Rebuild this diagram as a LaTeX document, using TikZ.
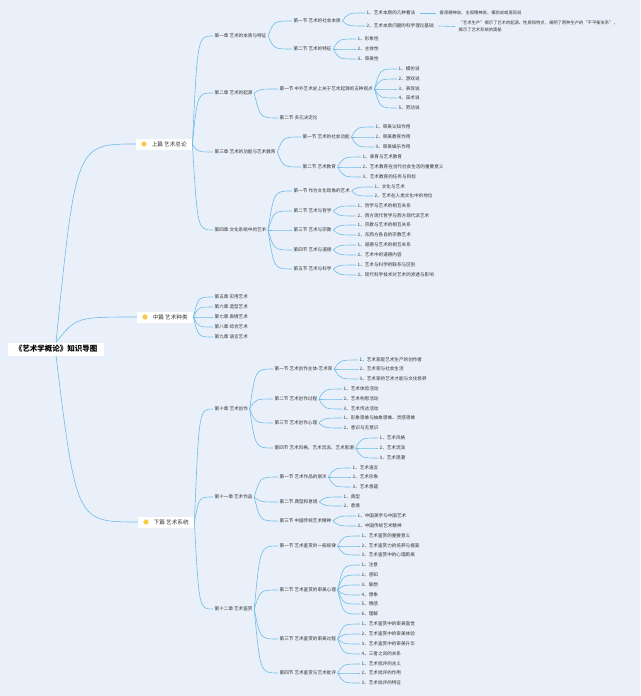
\documentclass[tikz,border=0pt]{standalone}
\usepackage{fontspec}
\newfontfamily\cjk{Noto Sans CJK SC}
\usepackage{tikz}
\usetikzlibrary{calc}
\definecolor{bgblue}{HTML}{E9F0F9}
\definecolor{lineblue}{HTML}{6DBDE8}
\definecolor{textgray}{HTML}{333333}
\definecolor{iconyel}{HTML}{F6CB45}
\tikzset{
    rootnode/.style = {fill=white, minimum width=96pt, minimum height=13pt, inner sep=0pt, font=\cjk\bfseries\fontsize{7.5}{9}\selectfont, text=black},
    partnode/.style = {fill=white, anchor=west, minimum width=56pt, minimum height=11pt, inner sep=0pt, font=\cjk\fontsize{5.6}{7}\selectfont, text=textgray},
    mynode/.style = {anchor=west, inner xsep=1.5pt, inner ysep=1pt, font=\cjk\fontsize{4.6}{6}\selectfont, text=textgray},
    notenode/.style = {mynode, align=left, font=\cjk\fontsize{4.3}{7}\selectfont},
    edgeb/.style = {-, line width=0.6pt, draw=lineblue, to path={.. controls ($(\tikztostart |- \tikztotarget)!0.25!(\tikztotarget)$) .. (\tikztotarget)}},
    edgel/.style = {-, line width=0.6pt, draw=lineblue}, % straight
}
\begin{document}
\begin{tikzpicture}[x=1pt,y=-1pt]
\fill[bgblue] (0,0) rectangle (640,696);
\path[use as bounding box] (0,0) rectangle (640,696);

% root and parts
\node[rootnode] at (56,349) (rt) {《艺术学概论》知识导图};
\node[partnode] at (136,144) (p1) {\hspace{10pt}上篇 艺术总论};
\node[partnode] at (137,317) (p2) {\hspace{10pt}中篇 艺术种类};
\node[partnode] at (138,522) (p3) {\hspace{10pt}下篇 艺术系统};
\fill[iconyel] ([xshift=8pt]p1.west) circle (2.6);
\fill[iconyel] ([xshift=8pt]p2.west) circle (2.6);
\fill[iconyel] ([xshift=8pt]p3.west) circle (2.6);

% chapters
\node[mynode] at (213,36) (c1) {第一章 艺术的本质与特征};
\node[mynode] at (213,93) (c2) {第二章 艺术的起源};
\node[mynode] at (213,152) (c3) {第三章 艺术的功能与艺术教育};
\node[mynode] at (213,230) (c4) {第四章 文化系统中的艺术};
\node[mynode] at (213,297) (c5) {第五章 实用艺术};
\node[mynode] at (213,307) (c6) {第六章 造型艺术};
\node[mynode] at (213,317) (c7) {第七章 表情艺术};
\node[mynode] at (213,327) (c8) {第八章 综合艺术};
\node[mynode] at (213,337) (c9) {第九章 语言艺术};
\node[mynode] at (213,409) (c10) {第十章 艺术创作};
\node[mynode] at (213,497) (c11) {第十一章 艺术作品};
\node[mynode] at (213,609) (c12) {第十二章 艺术鉴赏};

% sections
\node[mynode] at (292,21) (s11) {第一节 艺术的社会本质};
\node[mynode] at (292,49) (s12) {第二节 艺术的特征};
\node[mynode] at (278,89) (s21) {第一节 中外艺术史上关于艺术起源的五种观点};
\node[mynode] at (278,118) (s22) {第二节 多元决定论};
\node[mynode] at (301,137) (s31) {第一节 艺术的社会功能};
\node[mynode] at (301,167) (s32) {第二节 艺术教育};
\node[mynode] at (292,191) (s41) {第一节 作为文化现象的艺术};
\node[mynode] at (292,211) (s42) {第二节 艺术与哲学};
\node[mynode] at (292,230) (s43) {第三节 艺术与宗教};
\node[mynode] at (292,250) (s44) {第四节 艺术与道德};
\node[mynode] at (292,269) (s45) {第五节 艺术与科学};
\node[mynode] at (273,369) (s101) {第一节 艺术创作主体-艺术家};
\node[mynode] at (273,399) (s102) {第二节 艺术创作过程};
\node[mynode] at (273,423) (s103) {第三节 艺术创作心理};
\node[mynode] at (273,448) (s104) {第四节 艺术风格、艺术流派、艺术思潮};
\node[mynode] at (278,477) (s111) {第一节 艺术作品的层次};
\node[mynode] at (278,502) (s112) {第二节 典型和意境};
\node[mynode] at (278,521) (s113) {第三节 中国传统艺术精神};
\node[mynode] at (278,546) (s121) {第一节 艺术鉴赏的一般规律};
\node[mynode] at (278,590) (s122) {第二节 艺术鉴赏的审美心理};
\node[mynode] at (278,639) (s123) {第三节 艺术鉴赏的审美过程};
\node[mynode] at (278,673) (s124) {第四节 艺术鉴赏与艺术批评};

% items, part one
\node[mynode] at (365,13) (i111) {1、艺术本质的几种看法};
\node[mynode] at (365,26) (i112) {2、艺术本质问题的科学理论基础};
\node[notenode] at (438,13) (n1) {客观精神说、主观精神说、模仿说或再现说};
\node[notenode] at (457,26.5) (n2) {“艺术生产”揭示了艺术的起源、性质和特点，阐明了两种生产的“不平衡关系”，\\揭示了艺术系统的奥秘};
\node[mynode] at (356,39) (i121) {1、形象性};
\node[mynode] at (356,49) (i122) {2、主体性};
\node[mynode] at (356,59) (i123) {3、审美性};
\node[mynode] at (397,69) (i211) {1、模仿说};
\node[mynode] at (397,79) (i212) {2、游戏说};
\node[mynode] at (397,89) (i213) {3、表现说};
\node[mynode] at (397,98) (i214) {4、巫术说};
\node[mynode] at (397,108) (i215) {5、劳动说};
\node[mynode] at (374,127) (i311) {1、审美认知作用};
\node[mynode] at (374,137) (i312) {2、审美教育作用};
\node[mynode] at (374,147) (i313) {3、审美娱乐作用};
\node[mynode] at (361,157) (i321) {1、美育与艺术教育};
\node[mynode] at (361,167) (i322) {2、艺术教育在当代社会生活的重要意义};
\node[mynode] at (361,177) (i323) {3、艺术教育的任务与目标};
\node[mynode] at (373,187) (i411) {1、文化与艺术};
\node[mynode] at (373,196) (i412) {2、艺术在人类文化中的地位};
\node[mynode] at (356,206) (i421) {1、哲学与艺术的相互关系};
\node[mynode] at (356,216) (i422) {2、西方现代哲学与西方现代派艺术};
\node[mynode] at (356,225) (i431) {1、宗教与艺术的相互关系};
\node[mynode] at (356,235) (i432) {2、东西方各自的宗教艺术};
\node[mynode] at (356,245) (i441) {1、道德与艺术的相互关系};
\node[mynode] at (356,255) (i442) {2、艺术中的道德内容};
\node[mynode] at (356,265) (i451) {1、艺术与科学的联系与区别};
\node[mynode] at (356,275) (i452) {2、现代科学技术对艺术的渗透与影响};

% items, part three
\node[mynode] at (358,360) (i1011) {1、艺术家是艺术生产的创作者};
\node[mynode] at (358,369) (i1012) {2、艺术家与社会生活};
\node[mynode] at (358,379) (i1013) {3、艺术家的艺术才能与文化修养};
\node[mynode] at (342,389) (i1021) {1、艺术体验活动};
\node[mynode] at (342,399) (i1022) {2、艺术构思活动};
\node[mynode] at (342,409) (i1023) {3、艺术传达活动};
\node[mynode] at (342,418) (i1031) {1、形象思维与抽象思维、灵感思维};
\node[mynode] at (342,428) (i1032) {2、意识与无意识};
\node[mynode] at (378,438) (i1041) {1、艺术风格};
\node[mynode] at (378,448) (i1042) {2、艺术流派};
\node[mynode] at (378,458) (i1043) {3、艺术思潮};
\node[mynode] at (351,468) (i1111) {1、艺术语言};
\node[mynode] at (351,477) (i1112) {2、艺术形象};
\node[mynode] at (351,487) (i1113) {3、艺术意蕴};
\node[mynode] at (342,497) (i1121) {1、典型};
\node[mynode] at (342,506) (i1122) {2、意境};
\node[mynode] at (356,516) (i1131) {1、中国美学与中国艺术};
\node[mynode] at (356,526) (i1132) {2、中国传统艺术精神};
\node[mynode] at (360,536) (i1211) {1、艺术鉴赏的重要意义};
\node[mynode] at (360,546) (i1212) {2、艺术鉴赏力的培养与提高};
\node[mynode] at (360,555) (i1213) {3、艺术鉴赏中的心理距离};
\node[mynode] at (360,565) (i1221) {1、注意};
\node[mynode] at (360,575) (i1222) {2、感知};
\node[mynode] at (360,585) (i1223) {3、联想};
\node[mynode] at (360,595) (i1224) {4、想象};
\node[mynode] at (360,604) (i1225) {5、情感};
\node[mynode] at (360,614) (i1226) {6、理解};
\node[mynode] at (360,624) (i1231) {1、艺术鉴赏中的审美直觉};
\node[mynode] at (360,634) (i1232) {2、艺术鉴赏中的审美体验};
\node[mynode] at (360,644) (i1233) {3、艺术鉴赏中的审美升华};
\node[mynode] at (360,654) (i1234) {4、三者之间的关系};
\node[mynode] at (360,664) (i1241) {1、艺术批评的含义};
\node[mynode] at (360,673) (i1242) {2、艺术批评的作用};
\node[mynode] at (360,683) (i1243) {3、艺术批评的特征};

% branches
\draw[edgeb] (rt.north) edge (p1.west) edge (p2.west);
\draw[edgeb] (rt.south) edge (p3.west);
\draw[edgeb] (p1.east) edge (c1.west) edge (c2.west) edge (c3.west) edge (c4.west);
\draw[edgeb] (p2.east) edge (c5.west) edge (c6.west) edge (c7.west) edge (c8.west) edge (c9.west);
\draw[edgeb] (p3.east) edge (c10.west) edge (c11.west) edge (c12.west);
\draw[edgeb] (c1.east) edge (s11.west) edge (s12.west);
\draw[edgeb] (c2.east) edge (s21.west) edge (s22.west);
\draw[edgeb] (c3.east) edge (s31.west) edge (s32.west);
\draw[edgeb] (c4.east) edge (s41.west) edge (s42.west) edge (s43.west) edge (s44.west) edge (s45.west);
\draw[edgeb] (c10.east) edge (s101.west) edge (s102.west) edge (s103.west) edge (s104.west);
\draw[edgeb] (c11.east) edge (s111.west) edge (s112.west) edge (s113.west);
\draw[edgeb] (c12.east) edge (s121.west) edge (s122.west) edge (s123.west) edge (s124.west);
\draw[edgeb] (s11.east) edge (i111.west) edge (i112.west);
\draw[edgeb] (s12.east) edge (i121.west) edge (i122.west) edge (i123.west);
\draw[edgeb] (s21.east) edge (i211.west) edge (i212.west) edge (i213.west) edge (i214.west) edge (i215.west);
\draw[edgeb] (s31.east) edge (i311.west) edge (i312.west) edge (i313.west);
\draw[edgeb] (s32.east) edge (i321.west) edge (i322.west) edge (i323.west);
\draw[edgeb] (s41.east) edge (i411.west) edge (i412.west);
\draw[edgeb] (s42.east) edge (i421.west) edge (i422.west);
\draw[edgeb] (s43.east) edge (i431.west) edge (i432.west);
\draw[edgeb] (s44.east) edge (i441.west) edge (i442.west);
\draw[edgeb] (s45.east) edge (i451.west) edge (i452.west);
\draw[edgeb] (s101.east) edge (i1011.west) edge (i1012.west) edge (i1013.west);
\draw[edgeb] (s102.east) edge (i1021.west) edge (i1022.west) edge (i1023.west);
\draw[edgeb] (s103.east) edge (i1031.west) edge (i1032.west);
\draw[edgeb] (s104.east) edge (i1041.west) edge (i1042.west) edge (i1043.west);
\draw[edgeb] (s111.east) edge (i1111.west) edge (i1112.west) edge (i1113.west);
\draw[edgeb] (s112.east) edge (i1121.west) edge (i1122.west);
\draw[edgeb] (s113.east) edge (i1131.west) edge (i1132.west);
\draw[edgeb] (s121.east) edge (i1211.west) edge (i1212.west) edge (i1213.west);
\draw[edgeb] (s122.east) edge (i1221.west) edge (i1222.west) edge (i1223.west) edge (i1224.west) edge (i1225.west) edge (i1226.west);
\draw[edgeb] (s123.east) edge (i1231.west) edge (i1232.west) edge (i1233.west) edge (i1234.west);
\draw[edgeb] (s124.east) edge (i1241.west) edge (i1242.west) edge (i1243.west);
\draw[edgel] ([xshift=3pt]i111.east) -- ([xshift=-2pt]n1.west);
\draw[edgel] ([xshift=3pt]i112.east) -- ([xshift=-2pt]n2.west);

\end{tikzpicture}
\end{document}
